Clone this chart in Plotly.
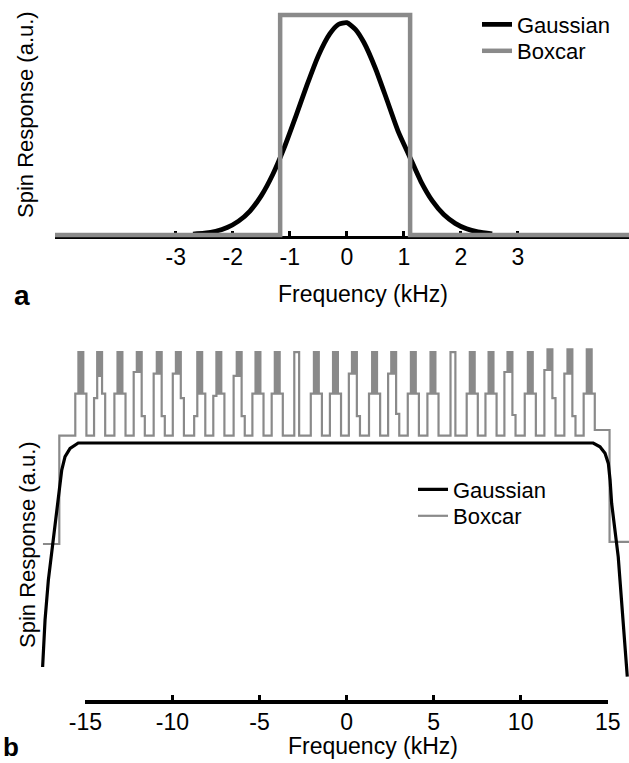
import plotly.graph_objects as go

W, H = 629, 763
FONT = "Liberation Sans, Arial, Helvetica, sans-serif"
GRAY = "#8a8a8a"


def px(x):
    return x / W


def py(y):
    return 1 - y / H


# ---------------- Panel a data ----------------
gauss_a_khz = [-2.7, -2.5, -2.3, -2.1, -1.9, -1.7, -1.5, -1.3, -1.1, -0.9, -0.7, -0.5, -0.3, -0.15,
               0.0, 0.15, 0.3, 0.5, 0.7, 0.9, 1.1, 1.3, 1.5, 1.7, 1.9, 2.1, 2.3, 2.55]
gauss_a_resp = [0.004, 0.008, 0.017, 0.034, 0.063, 0.109, 0.179, 0.275, 0.396, 0.536, 0.681, 0.815, 0.914, 0.957,
                0.965, 0.935, 0.875, 0.758, 0.616, 0.471, 0.357, 0.243, 0.155, 0.093, 0.053, 0.028, 0.014, 0.005]

box_a_khz = [-5.12, -1.17, 1.11, 4.95]
box_a_resp = [0.0, 1.0, 0.0, 0.0]

ticks_a = [-3, -2, -1, 0, 1, 2, 3]
ticks_a_text = ["-3", "-2", "-1", "0", "1", "2", "3"]

# ---------------- Panel b data ----------------
gauss_b_khz = [-17.49, -17.35, -17.16, -16.97, -16.78, -16.65, -16.49, -16.39, -16.2, -15.91, -15.44,
               0.0, 14.19, 14.58, 14.87, 15.06, 15.16, 15.25, 15.44, 15.63, 15.73, 15.89, 16.02, 16.15]
gauss_b_resp = [0.0, 0.21, 0.388, 0.509, 0.612, 0.701, 0.804, 0.879, 0.939, 0.976, 1.0,
                1.0, 1.0, 0.983, 0.954, 0.909, 0.835, 0.731, 0.612, 0.492, 0.388, 0.24, 0.091, -0.043]

# boxcar comb: pulse centres (kHz), shoulder levels, level down to which the top is filled (None = open)
pulse_center = [-15.29, -14.21, -13.04, -11.93, -10.78, -9.68, -8.45, -7.35, -6.18, -5.10, -3.99, -2.87, -1.74,
                -0.64, 0.45, 1.61, 2.71, 3.84, 4.97, 6.12, 7.23, 8.31, 9.40, 10.57, 11.70, 12.85, 13.96]
pulse_top = [1.406] * 24 + [1.418, 1.418, 1.418]
pulse_left_mid = [1.22, 1.20, 1.22, 1.317, 1.31, 1.31, 1.12, 1.21, 1.30, 1.22, 1.22, 1.033, 1.22,
                  1.22, 1.31, 1.22, 1.31, 1.22, 1.22, 1.033, 1.22, 1.22, 1.317, 1.22, 1.326, 1.31, 1.22]
pulse_right_mid = [1.22, 1.22, 1.22, 1.12, 1.12, 1.20, 1.22, 1.22, 1.12, 1.22, 1.22, 1.033, 1.22,
                   1.22, 1.12, 1.22, 1.13, 1.22, 1.22, 1.033, 1.22, 1.22, 1.125, 1.22, 1.20, 1.12, 1.22]
pulse_fill = [1.22, 1.30, 1.22, 1.317, 1.31, 1.31, 1.22, 1.22, 1.30, 1.22, 1.22, None, 1.22,
              1.22, 1.31, 1.22, 1.31, 1.22, 1.22, None, 1.22, 1.22, 1.317, 1.22, 1.326, 1.31, 1.22]
pulse_base_half = 0.32   # kHz
pulse_top_half = 0.14    # kHz
pulse_dip_half = 0.04    # kHz
box_b_plateau_left = 1.033
box_b_plateau_right = 1.058
box_b_outer_left = 0.549
box_b_outer_right = 0.559
box_b_edges = [-17.47, -16.53, 15.13, 16.3]  # outer start, rise, fall, outer end

ticks_b = [-15, -10, -5, 0, 5, 10, 15]
ticks_b_text = ["-15", "-10", "-5", "0", "5", "10", "15"]

# build the comb step line from the read values
box_b_x = [box_b_edges[0], box_b_edges[1]]
box_b_y = [box_b_outer_left, box_b_plateau_left]
n = len(pulse_center)
for i, c in enumerate(pulse_center):
    after = box_b_plateau_right if i == n - 1 else box_b_plateau_left
    box_b_x += [c - pulse_base_half, c - pulse_top_half]
    box_b_y += [pulse_left_mid[i], pulse_top[i]]
    if pulse_fill[i] is not None:
        box_b_x += [c - pulse_dip_half, c + pulse_dip_half]
        box_b_y += [pulse_fill[i], pulse_top[i]]
    box_b_x += [c + pulse_top_half, c + pulse_base_half]
    box_b_y += [pulse_right_mid[i], after]
box_b_x += [box_b_edges[2], box_b_edges[3]]
box_b_y += [box_b_outer_right, box_b_outer_right]

fig = go.Figure()

# panel a
fig.add_trace(go.Scatter(x=gauss_a_khz, y=gauss_a_resp, mode="lines", name="Gaussian",
                         line=dict(color="black", width=4.8, shape="spline", smoothing=0.6),
                         xaxis="x", yaxis="y", legend="legend"))
fig.add_trace(go.Scatter(x=box_a_khz, y=box_a_resp, mode="lines", name="Boxcar",
                         line=dict(color=GRAY, width=4.5, shape="hv"),
                         xaxis="x", yaxis="y", legend="legend2"))
# panel b
fig.add_trace(go.Scatter(x=box_b_x, y=box_b_y, mode="lines", name="Boxcar",
                         line=dict(color=GRAY, width=2.2, shape="hv"),
                         xaxis="x2", yaxis="y2", legend="legend4"))
fig.add_trace(go.Scatter(x=gauss_b_khz, y=gauss_b_resp, mode="lines", name="Gaussian",
                         line=dict(color="black", width=3.2),
                         xaxis="x2", yaxis="y2", legend="legend3"))
# empty trace so the frequency axis of panel b (x3, spanning -15..15) gets drawn
fig.add_trace(go.Scatter(x=[], y=[], mode="lines", showlegend=False, hoverinfo="skip",
                         xaxis="x3", yaxis="y2"))

tickfont = dict(family=FONT, size=23, color="black")
legfont = dict(family=FONT, size=22, color="black")


def leg(xp, yp):
    return dict(x=px(xp), y=py(yp), xanchor="left", yanchor="middle", font=legfont,
                bgcolor="rgba(0,0,0,0)", borderwidth=0, itemwidth=30)


def note(text, xp, yp, size, angle=0):
    return dict(text=text, x=px(xp), y=py(yp), xref="paper", yref="paper", xanchor="center",
                yanchor="middle", textangle=angle, showarrow=False,
                font=dict(family=FONT, size=size, color="black"))


fig.update_layout(
    template="none",
    width=W, height=H, autosize=False,
    margin=dict(l=0, r=0, t=0, b=0, pad=0, autoexpand=False),
    paper_bgcolor="white", plot_bgcolor="rgba(0,0,0,0)",
    font=dict(family=FONT, color="black"),
    showlegend=True,
    legend=leg(477, 24.5),
    legend2=leg(477, 51.0),
    legend3=leg(413, 489.5),
    legend4=leg(413, 516),
    xaxis=dict(domain=[px(55), 1], range=[-5.12, 4.95], anchor="free", position=py(236.5),
               showline=True, linecolor="black", linewidth=3, ticks="inside", ticklen=5,
               tickwidth=2.5, tickcolor="black", tickvals=ticks_a, ticktext=ticks_a_text,
               tickfont=tickfont, ticklabelstandoff=-1, showgrid=False, zeroline=False,
               layer="below traces", automargin=False),
    yaxis=dict(domain=[py(245), py(5)], range=[-10 / 220, 230 / 220], visible=False, automargin=False),
    xaxis2=dict(domain=[0, 1], range=[-19.942, 16.249], anchor="y2", visible=False, automargin=False),
    yaxis2=dict(domain=[py(699.5), py(340)], range=[-32.5 / 224, 327 / 224], anchor="x2",
                visible=False, automargin=False),
    xaxis3=dict(domain=[px(85.4), px(607.7)], range=[-15, 15], anchor="y2",
                showline=True, linecolor="black", linewidth=3.5, ticks="inside", ticklen=5,
                tickwidth=2.5, tickcolor="black", tickvals=ticks_b, ticktext=ticks_b_text,
                tickfont=tickfont, ticklabelstandoff=-1, showgrid=False, zeroline=False,
                automargin=False),
    annotations=[
        note("Spin Response (a.u.)", 26, 115, 22, -90),
        note("Frequency (kHz)", 363, 294, 23),
        note("<b>a</b>", 22, 296, 28),
        note("Spin Response (a.u.)", 27, 545, 22, -90),
        note("Frequency (kHz)", 373, 746, 23),
        note("<b>b</b>", 11, 747, 26),
    ],
)

fig.write_html("out.html", config={"displayModeBar": False},
               post_script="document.body.style.margin='0px';")
